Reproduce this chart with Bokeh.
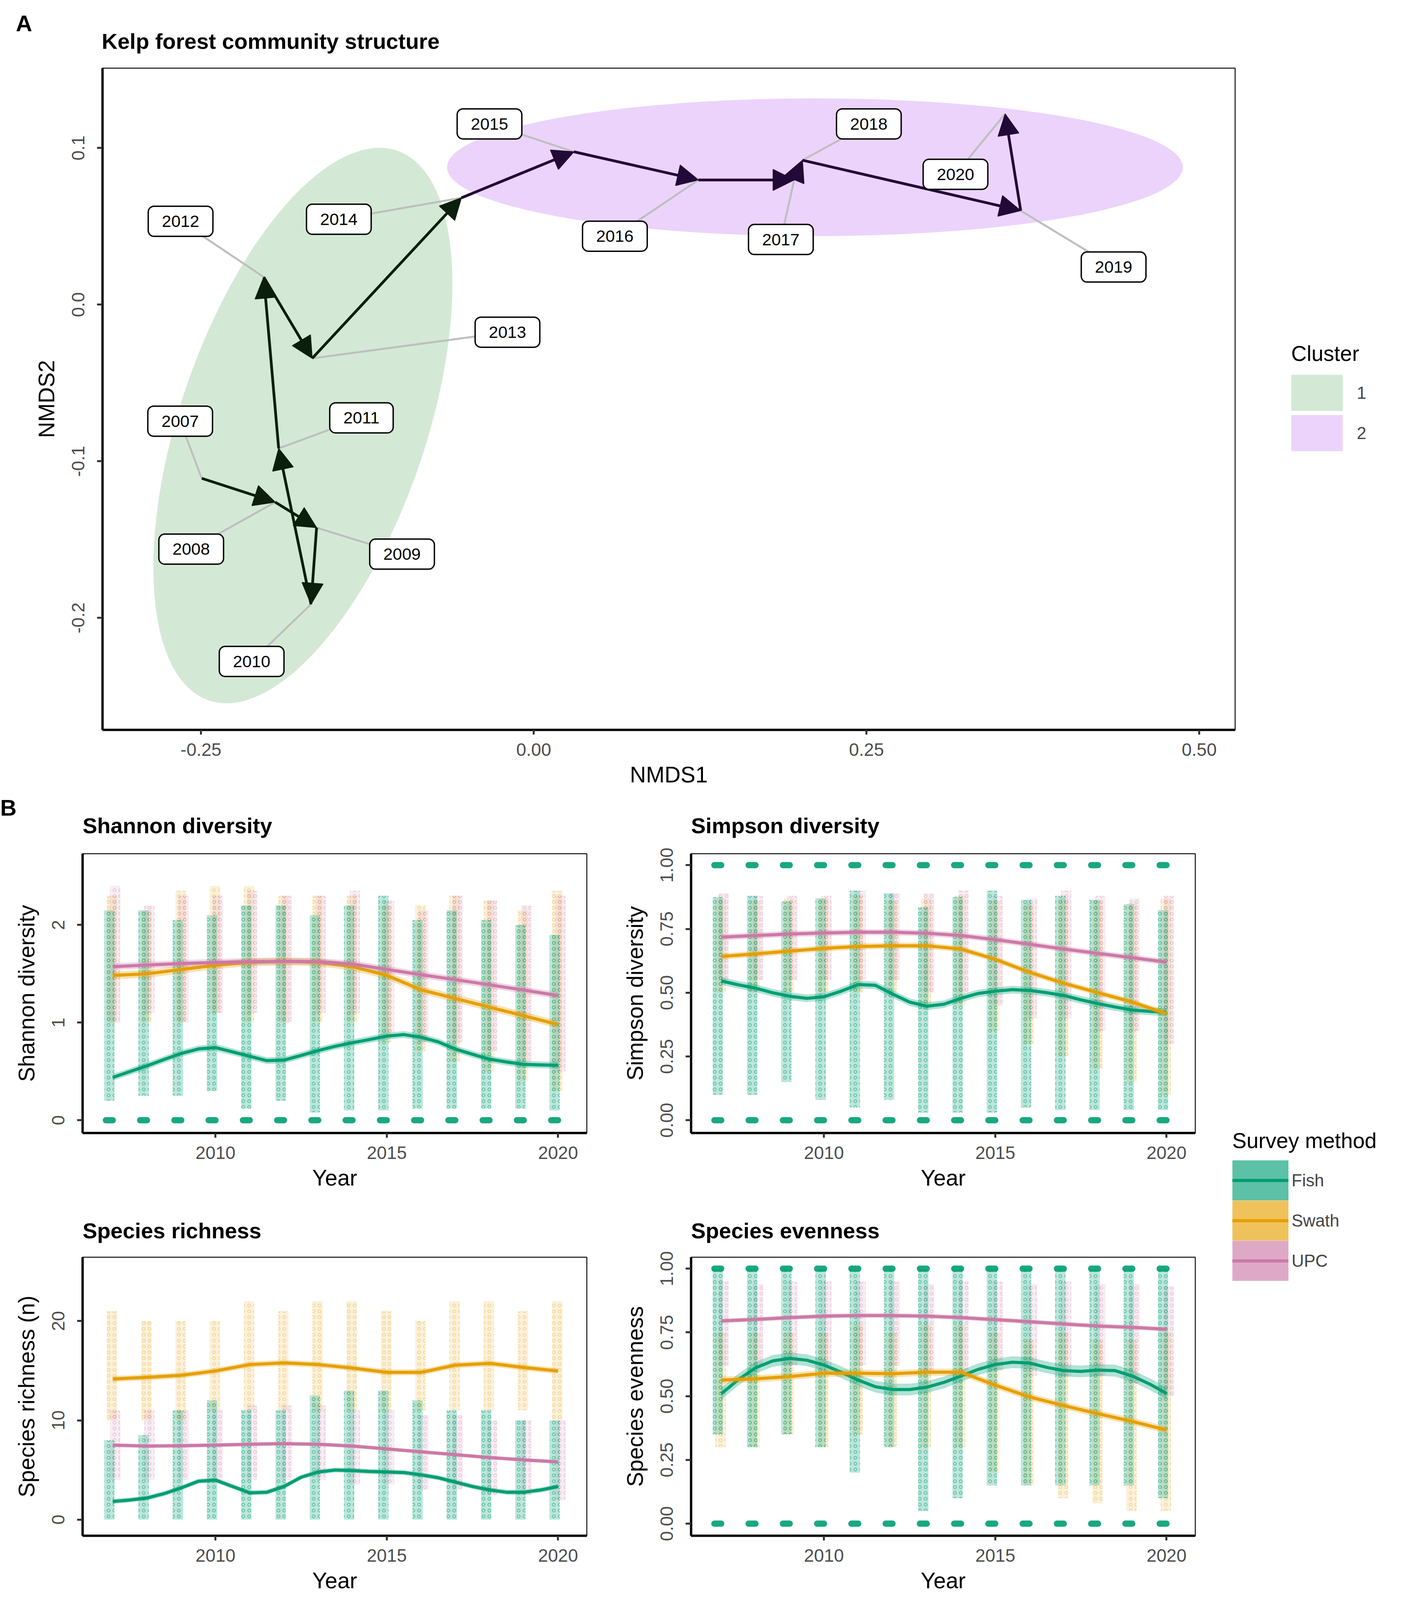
from bokeh.core.properties import value
from bokeh.embed import file_html
from bokeh.layouts import column, row
from bokeh.models import (Arrow, ColumnDataSource, FixedTicker, Legend, LegendItem,
                          NormalHead, PrintfTickFormatter, Range1d)
from bokeh.plotting import figure
from bokeh.resources import INLINE

FONT = "Liberation Sans"
FISH, SWATH, UPC = "#009E73", "#E69F00", "#CC79A7"

# ---------------- panel A: NMDS trajectory ----------------
nmds_year = [2007, 2008, 2009, 2010, 2011, 2012, 2013,
             2014, 2015, 2016, 2017, 2018, 2019, 2020]
nmds1 = [-0.2494, -0.1942, -0.1631, -0.1673, -0.1916, -0.2028, -0.1664,
         -0.0543, 0.0302, 0.1238, 0.1957, 0.2019, 0.3659, 0.3542]
nmds2 = [-0.1109, -0.1261, -0.1424, -0.1913, -0.0918, 0.0176, -0.0343,
         0.0682, 0.0976, 0.0796, 0.0796, 0.0922, 0.0600, 0.1218]
cluster = [1, 1, 1, 1, 1, 1, 1, 2, 2, 2, 2, 2, 2, 2]
# repelled label positions
label_x = [-0.2656, -0.2573, -0.0989, -0.2119, -0.1294, -0.2653, -0.0197,
           -0.1464, -0.0332, 0.0610, 0.1857, 0.2518, 0.4357, 0.3169]
label_y = [-0.0744, -0.1561, -0.1593, -0.2278, -0.0723, 0.0532, -0.0176,
           0.0545, 0.1154, 0.0437, 0.0416, 0.1154, 0.0240, 0.0832]
# cluster ellipses
ell_cluster = [1, 2]
ell_x = [-0.1734, 0.2113]
ell_y = [-0.0772, 0.0877]
ell_w = [0.1846, 0.5528]
ell_h = [0.3710, 0.0879]
ell_angle = [-18.9, 0.0]

CLUSTER_FILL = {1: "#D3E9D5", 2: "#ECD3FB"}
ARROW_COL = {1: "#0B1F0A", 2: "#220A38"}

# ---------------- panel B: diversity by year ----------------
years = [2007, 2008, 2009, 2010, 2011, 2012, 2013,
         2014, 2015, 2016, 2017, 2018, 2019, 2020]
half_years = [2007, 2007.5, 2008, 2008.5, 2009, 2009.5, 2010, 2010.5, 2011, 2011.5,
              2012, 2012.5, 2013, 2013.5, 2014, 2014.5, 2015, 2015.5, 2016, 2016.5,
              2017, 2017.5, 2018, 2018.5, 2019, 2019.5, 2020]

# smoothed trends (fish read every half year, the others every year)
sh_fish = [0.438, 0.498, 0.557, 0.622, 0.684, 0.73, 0.744, 0.70, 0.655, 0.61, 0.616, 0.664, 0.714,
           0.758, 0.794, 0.827, 0.862, 0.877, 0.85, 0.803, 0.729, 0.676, 0.625, 0.596, 0.572, 0.566, 0.563]
sh_swath = [1.484, 1.50, 1.544, 1.588, 1.618, 1.627, 1.618, 1.573, 1.484, 1.336, 1.247, 1.158, 1.07, 0.98]
sh_upc = [1.573, 1.59, 1.605, 1.617, 1.625, 1.628, 1.625, 1.60, 1.545, 1.49, 1.44, 1.387, 1.333, 1.277]

si_fish = [0.546, 0.531, 0.518, 0.50, 0.486, 0.478, 0.484, 0.506, 0.532, 0.529, 0.495, 0.463, 0.447,
           0.455, 0.478, 0.497, 0.506, 0.512, 0.509, 0.50, 0.489, 0.472, 0.457, 0.444, 0.432, 0.427, 0.423]
si_swath = [0.642, 0.652, 0.663, 0.674, 0.681, 0.684, 0.684, 0.671, 0.631, 0.58, 0.537, 0.5, 0.463, 0.418]
si_upc = [0.718, 0.724, 0.73, 0.734, 0.737, 0.737, 0.733, 0.724, 0.708, 0.69, 0.671, 0.654, 0.637, 0.62]

ri_fish = [1.83, 1.98, 2.18, 2.62, 3.2, 3.87, 3.98, 3.34, 2.70, 2.76, 3.34, 4.27, 4.80,
           5.0, 4.94, 4.85, 4.80, 4.74, 4.51, 4.22, 3.78, 3.34, 2.99, 2.76, 2.76, 2.99, 3.34]
ri_swath = [14.16, 14.33, 14.53, 14.97, 15.61, 15.78, 15.61, 15.26, 14.83, 14.83, 15.55, 15.73, 15.32, 14.97]
ri_upc = [7.5, 7.41, 7.44, 7.5, 7.59, 7.65, 7.59, 7.41, 7.12, 6.83, 6.54, 6.25, 6.02, 5.81]

ev_fish = [0.509, 0.565, 0.611, 0.638, 0.648, 0.641, 0.622, 0.594, 0.563, 0.537, 0.526, 0.526, 0.535,
           0.554, 0.579, 0.605, 0.624, 0.633, 0.63, 0.613, 0.60, 0.597, 0.602, 0.60, 0.579, 0.548, 0.511]
ev_swath = [0.563, 0.568, 0.577, 0.59, 0.59, 0.588, 0.594, 0.594, 0.543, 0.497, 0.463, 0.431, 0.401, 0.367]
ev_upc = [0.795, 0.801, 0.808, 0.814, 0.816, 0.816, 0.814, 0.808, 0.80, 0.792, 0.783, 0.775, 0.77, 0.762]

# half-width of the confidence bands (fish, swath, upc)
sh_ci = [0.035, 0.04, 0.035]
si_ci = [0.015, 0.012, 0.012]
ri_ci = [0.25, 0.3, 0.2]
ev_ci = [0.023, 0.014, 0.009]

# dense part of the raw point clouds per year (low, high)
sh_fish_lo = [0.2, 0.25, 0.25, 0.3, 0.12, 0.2, 0.08, 0.1, 0.1, 0.12, 0.12, 0.12, 0.12, 0.1]
sh_fish_hi = [2.15, 2.15, 2.05, 2.1, 2.2, 2.2, 2.1, 2.2, 2.3, 2.05, 2.15, 2.05, 2.0, 1.9]
sh_swath_lo = [1.0, 1.0, 1.0, 1.1, 1.0, 1.0, 1.0, 1.0, 0.8, 0.7, 0.6, 0.5, 0.4, 0.3]
sh_swath_hi = [2.3, 2.15, 2.35, 2.4, 2.4, 2.3, 2.3, 2.3, 2.2, 2.2, 2.3, 2.25, 2.15, 2.35]
sh_upc_lo = [1.0, 1.1, 1.0, 1.1, 1.1, 1.0, 1.1, 1.1, 0.9, 0.8, 0.8, 0.7, 0.6, 0.5]
sh_upc_hi = [2.4, 2.2, 2.3, 2.3, 2.35, 2.3, 2.3, 2.35, 2.25, 2.15, 2.3, 2.25, 2.2, 2.3]

si_fish_lo = [0.1, 0.1, 0.15, 0.08, 0.05, 0.08, 0.03, 0.03, 0.03, 0.05, 0.04, 0.04, 0.04, 0.04]
si_fish_hi = [0.875, 0.88, 0.858, 0.87, 0.9, 0.89, 0.835, 0.875, 0.9, 0.864, 0.88, 0.864, 0.847, 0.824]
si_swath_lo = [0.5, 0.5, 0.5, 0.5, 0.5, 0.5, 0.45, 0.45, 0.35, 0.3, 0.25, 0.2, 0.15, 0.1]
si_swath_hi = [0.87, 0.86, 0.87, 0.87, 0.88, 0.86, 0.87, 0.88, 0.86, 0.85, 0.87, 0.86, 0.85, 0.87]
si_upc_lo = [0.55, 0.55, 0.55, 0.55, 0.55, 0.55, 0.5, 0.5, 0.45, 0.4, 0.4, 0.35, 0.35, 0.3]
si_upc_hi = [0.89, 0.88, 0.88, 0.88, 0.9, 0.89, 0.89, 0.9, 0.88, 0.87, 0.9, 0.88, 0.87, 0.88]

ri_fish_lo = [0, 0, 0, 0, 0, 0, 0, 0, 0, 0, 0, 0, 0, 0]
ri_fish_hi = [8, 8.5, 11, 12, 11, 11, 12.5, 13, 13, 12, 11, 11, 10, 10]
ri_swath_lo = [10, 10, 10, 11, 11, 11, 11, 11, 11, 11, 11, 11, 11, 10]
ri_swath_hi = [21, 20, 20, 20, 22, 21, 22, 22, 21, 20, 22, 22, 21, 22]
ri_upc_lo = [4, 4, 4, 4, 4, 4, 4, 3.5, 3.5, 3, 3, 2.5, 2.5, 2]
ri_upc_hi = [11, 11, 11, 11, 11.5, 11.5, 11.5, 11, 11, 10.5, 10.5, 10, 10, 10]

ev_fish_lo = [0.35, 0.3, 0.35, 0.3, 0.2, 0.3, 0.05, 0.1, 0.15, 0.15, 0.15, 0.15, 0.15, 0.1]
ev_fish_hi = [1.0, 1.0, 1.0, 1.0, 1.0, 1.0, 1.0, 1.0, 1.0, 1.0, 1.0, 1.0, 1.0, 1.0]
ev_swath_lo = [0.3, 0.3, 0.35, 0.3, 0.35, 0.3, 0.3, 0.3, 0.2, 0.15, 0.1, 0.08, 0.05, 0.05]
ev_swath_hi = [0.75, 0.75, 0.75, 0.75, 0.78, 0.75, 0.78, 0.78, 0.75, 0.72, 0.75, 0.72, 0.72, 0.75]
ev_upc_lo = [0.62, 0.62, 0.62, 0.62, 0.62, 0.62, 0.6, 0.6, 0.6, 0.58, 0.58, 0.58, 0.55, 0.5]
ev_upc_hi = [0.95, 0.94, 0.95, 0.95, 0.95, 0.95, 0.94, 0.95, 0.95, 0.94, 0.95, 0.94, 0.94, 0.93]

# values where many fish samples pile up exactly (0 and/or 1)
sh_fish_rows = [0]
si_fish_rows = [0, 1]
ri_fish_rows = []
ev_fish_rows = [0, 1]

# text sizes
TAG, TITLE, AXIS, TICK, LEG_T, LEG_L, LBL = "58px", "56px", "57px", "46px", "55px", "44px", "43px"


def blank(width, height, left=0, right=0):
    # axis-less figure whose frame works in pixel coordinates (y downwards)
    p = figure(width=width, height=height,
               x_range=Range1d(0, width - left - right), y_range=Range1d(height, 0),
               x_axis_type=None, y_axis_type=None, min_border=0,
               min_border_left=left, min_border_right=right,
               output_backend="svg", toolbar_location=None)
    p.outline_line_color = None
    p.xgrid.visible = False
    p.ygrid.visible = False
    return p


def header(width, height, texts, left=0, right=0):
    # strip holding panel tags and panel titles
    h = blank(width, height, left, right)
    for x, y, text, size, align in texts:
        h.text(x=[x], y=[y], text=[text], text_font=value(FONT), text_font_size=size,
               text_font_style="bold", text_align=align, text_baseline="middle",
               text_color="black")
    return h


def style_axes(p):
    for ax in (p.xaxis[0], p.yaxis[0]):
        ax.axis_line_width = 6
        ax.axis_line_color = "black"
        ax.major_tick_line_color = "#333333"
        ax.major_tick_line_width = 5
        ax.major_tick_in = 0
        ax.minor_tick_line_color = None
        ax.major_label_text_font = FONT
        ax.major_label_text_font_size = TICK
        ax.major_label_text_color = "#4D4D4D"
        ax.axis_label_text_font = FONT
        ax.axis_label_text_font_size = AXIS
        ax.axis_label_text_font_style = "normal"
        ax.axis_label_text_color = "black"
    p.xaxis.major_tick_out = 12
    p.xaxis.major_label_standoff = 22
    p.xaxis.axis_label_standoff = 13
    p.yaxis.major_tick_out = 14
    p.yaxis.major_label_standoff = 32
    p.yaxis.axis_label_standoff = 31
    p.yaxis.major_label_orientation = "vertical"
    p.xgrid.visible = False
    p.ygrid.visible = False
    p.outline_line_color = "#333333"
    p.outline_line_width = 3
    p.outline_line_alpha = 1


def key_legend(items, title, location, glyph_w, glyph_h, spacing, standoff, title_standoff):
    return Legend(items=items, title=title, location=location, orientation="vertical",
                  glyph_width=glyph_w, glyph_height=glyph_h, spacing=spacing,
                  padding=0, margin=0, label_standoff=standoff,
                  label_text_font=FONT, label_text_font_size=LEG_L,
                  title_text_font=FONT, title_text_font_size=LEG_T,
                  title_text_font_style="normal", title_text_color="black",
                  title_standoff=title_standoff,
                  border_line_color=None, background_fill_alpha=0)


# ---------------- panel A figure ----------------
head_a = header(3584, 139, [(61, 59, "A", TAG, "center"),
                            (260, 105, "Kelp forest community structure", TITLE, "left")])

pa = figure(width=3182, height=1897,
            x_range=Range1d(-0.32394, 0.52700), y_range=Range1d(-0.27150, 0.15097),
            x_axis_label="NMDS1", y_axis_label="NMDS2",
            min_border_left=262, min_border_right=20,
            min_border_top=35, min_border_bottom=168,
            output_backend="svg", toolbar_location=None)
style_axes(pa)
pa.xaxis.ticker = FixedTicker(ticks=[-0.25, 0.0, 0.25, 0.5])
pa.xaxis.formatter = PrintfTickFormatter(format="%.2f")
pa.yaxis.ticker = FixedTicker(ticks=[-0.2, -0.1, 0.0, 0.1])
pa.yaxis.formatter = PrintfTickFormatter(format="%.1f")

pa.ellipse(x=ell_x, y=ell_y, width=ell_w, height=ell_h, angle=ell_angle,
           angle_units="deg", fill_color=[CLUSTER_FILL[c] for c in ell_cluster],
           fill_alpha=1, line_color=None)

pa.segment(x0=label_x, y0=label_y, x1=nmds1, y1=nmds2,
           line_color="#BEBEBE", line_width=5)

for c in (1, 2):
    idx = [i for i in range(len(nmds_year) - 1) if cluster[i] == c]
    src = ColumnDataSource(data=dict(
        x0=[nmds1[i] for i in idx], y0=[nmds2[i] for i in idx],
        x1=[nmds1[i + 1] for i in idx], y1=[nmds2[i + 1] for i in idx]))
    col = ARROW_COL[c]
    pa.add_layout(Arrow(end=NormalHead(size=54, fill_color=col, line_color=col, line_width=2),
                        x_start="x0", y_start="y0", x_end="x1", y_end="y1",
                        source=src, line_color=col, line_width=7))

lbl = pa.text(x=label_x, y=label_y, text=[str(y) for y in nmds_year],
              text_font=value(FONT), text_font_size=LBL, text_color="black",
              text_align="center", text_baseline="middle",
              background_fill_color="white", border_line_color="black",
              border_line_width=3.5, padding=(35, 24), border_radius=15)
lbl.level = "overlay"

# cluster legend in its own strip right of panel A (frame is aligned with panel A's)
leg_fig_a = blank(402, 1897)
cl_items = []
for c in (1, 2):
    r = leg_fig_a.line(x=[-10, -9], y=[-10, -9], line_color=CLUSTER_FILL[c], line_width=93)
    cl_items.append(LegendItem(label=str(c), renderers=[r]))
leg_fig_a.add_layout(key_legend(cl_items, "Cluster", (124, 713), 132, 93, 10, 36, 22))


# ---------------- panel B figures ----------------
def diversity_panel(ylabel, y_range, yticks, fmt, size, borders,
                    trends, ci, clouds, fish_rows):
    width, height = size
    left, right, top, bottom = borders
    p = figure(width=width, height=height,
               x_range=Range1d(2006.12, 2020.84), y_range=Range1d(*y_range),
               x_axis_label="Year", y_axis_label=ylabel,
               min_border_left=left, min_border_right=right,
               min_border_top=top, min_border_bottom=bottom,
               output_backend="svg", toolbar_location=None)
    style_axes(p)
    p.xaxis.ticker = FixedTicker(ticks=[2010, 2015, 2020])
    p.yaxis.ticker = FixedTicker(ticks=yticks)
    p.yaxis.formatter = PrintfTickFormatter(format=fmt)

    # raw observations: dense band of jittered points in each year
    for (lo, hi), color, off, fa, ha in zip(clouds, (SWATH, UPC, FISH), (-0.02, 0.07, -0.1),
                                            (0.14, 0.14, 0.26), (0.35, 0.35, 0.55)):
        p.quad(left=[y + off - 0.15 for y in years], right=[y + off + 0.15 for y in years],
               bottom=lo, top=hi, fill_color=color, fill_alpha=fa, line_color=None,
               hatch_pattern="ring", hatch_color=color, hatch_alpha=ha,
               hatch_scale=15, hatch_weight=2)
    for r in fish_rows:
        p.segment(x0=[y - 0.2 for y in years], x1=[y + 0.0 for y in years],
                  y0=[r] * len(years), y1=[r] * len(years), line_color=FISH,
                  line_alpha=0.9, line_width=16, line_cap="round")

    for (xs, vals), color, hw in zip(trends, (FISH, SWATH, UPC), ci):
        p.varea(x=xs, y1=[v - hw for v in vals], y2=[v + hw for v in vals],
                fill_color=color, fill_alpha=0.3)
        p.line(x=xs, y=vals, line_color=color, line_width=8, line_join="round")
    return p


head_b = header(3584, 115, [(0, 31, "B", TAG, "left"),
                            (211, 77, "Shannon diversity", TITLE, "left"),
                            (1769, 77, "Simpson diversity", TITLE, "left")])
head_c1 = header(1522, 116, [(0, 82, "Species richness", TITLE, "left")], left=211, right=20)
head_c2 = header(1588, 116, [(0, 82, "Species evenness", TITLE, "left")], left=247, right=50)

ps = diversity_panel("Shannon diversity", (-0.131, 2.730), [0, 1, 2], "%d",
                     (1522, 917), (211, 20, 34, 168),
                     ((half_years, sh_fish), (years, sh_swath), (years, sh_upc)), sh_ci,
                     ((sh_swath_lo, sh_swath_hi), (sh_upc_lo, sh_upc_hi), (sh_fish_lo, sh_fish_hi)),
                     sh_fish_rows)
pi = diversity_panel("Simpson diversity", (-0.050, 1.0448), [0, 0.25, 0.5, 0.75, 1.0], "%.2f",
                     (1588, 917), (247, 50, 34, 168),
                     ((half_years, si_fish), (years, si_swath), (years, si_upc)), si_ci,
                     ((si_swath_lo, si_swath_hi), (si_upc_lo, si_upc_hi), (si_fish_lo, si_fish_hi)),
                     si_fish_rows)
pr = diversity_panel("Species richness (n)", (-1.62, 26.42), [0, 10, 20], "%d",
                     (1522, 931), (211, 20, 34, 184),
                     ((half_years, ri_fish), (years, ri_swath), (years, ri_upc)), ri_ci,
                     ((ri_swath_lo, ri_swath_hi), (ri_upc_lo, ri_upc_hi), (ri_fish_lo, ri_fish_hi)),
                     ri_fish_rows)
pe = diversity_panel("Species evenness", (-0.0474, 1.0448), [0, 0.25, 0.5, 0.75, 1.0], "%.2f",
                     (1588, 931), (247, 50, 34, 184),
                     ((half_years, ev_fish), (years, ev_swath), (years, ev_upc)), ev_ci,
                     ((ev_swath_lo, ev_swath_hi), (ev_upc_lo, ev_upc_hi), (ev_fish_lo, ev_fish_hi)),
                     ev_fish_rows)

# shared legend for survey method
leg_fig_b = blank(474, 1964)
sm_items = []
for name, color in (("Fish", FISH), ("Swath", SWATH), ("UPC", UPC)):
    band = leg_fig_b.line(x=[-10, -9], y=[-10, -9], line_color=color, line_alpha=0.64,
                          line_width=103)
    trend = leg_fig_b.line(x=[-10, -9], y=[-10, -9], line_color=color, line_width=8)
    sm_items.append(LegendItem(label=name, renderers=[band, trend]))
leg_fig_b.add_layout(key_legend(sm_items, "Survey method", (45, 836), 144, 103, 0, 8, 18))

page = column(head_a, row(pa, leg_fig_a), head_b,
              row(column(ps, head_c1, pr), column(pi, head_c2, pe), leg_fig_b))
open("out.html", "w").write(file_html(page, INLINE))
